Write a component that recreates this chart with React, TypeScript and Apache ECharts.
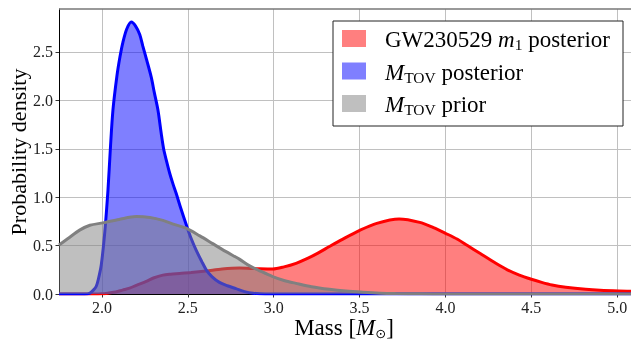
import React, { useEffect, useRef } from "react";
import * as echarts from "echarts";

// Mass [M_sun] vs probability density
const redPosterior: [number, number][] = [
  [1.75, 0], [1.95, 0], [2.0, 0.002], [2.04, 0.01], [2.08, 0.02], [2.12, 0.04],
  [2.161, 0.06], [2.2, 0.09], [2.258, 0.13], [2.3, 0.165], [2.355, 0.195],
  [2.4, 0.205], [2.452, 0.212], [2.52, 0.222], [2.607, 0.238], [2.7, 0.258],
  [2.8, 0.268], [2.9, 0.262], [2.994, 0.258], [3.06, 0.28], [3.13, 0.317],
  [3.2, 0.37], [3.26, 0.425], [3.324, 0.49], [3.4, 0.565], [3.498, 0.655],
  [3.6, 0.73], [3.73, 0.775], [3.85, 0.74], [3.93, 0.685], [4.0, 0.627],
  [4.07, 0.565], [4.128, 0.5], [4.2, 0.42], [4.293, 0.317], [4.36, 0.25],
  [4.43, 0.195], [4.5, 0.152], [4.56, 0.12], [4.62, 0.093], [4.7, 0.07],
  [4.816, 0.048], [4.9, 0.038], [5.01, 0.031], [5.08, 0.029],
];

const mtovPosterior: [number, number][] = [
  [1.75, 0], [1.9, 0], [1.93, 0.01], [1.95, 0.04], [1.967, 0.08], [1.98, 0.16],
  [1.996, 0.3], [2.016, 0.63], [2.035, 1.07], [2.049, 1.5], [2.064, 1.9],
  [2.087, 2.25], [2.105, 2.45], [2.122, 2.6], [2.145, 2.74], [2.171, 2.81],
  [2.195, 2.77], [2.22, 2.68], [2.238, 2.56], [2.26, 2.42], [2.287, 2.24],
  [2.305, 2.08], [2.326, 1.9], [2.345, 1.66], [2.359, 1.5], [2.375, 1.38],
  [2.394, 1.25], [2.413, 1.14], [2.432, 1.04], [2.46, 0.88], [2.49, 0.72],
  [2.52, 0.57], [2.549, 0.45], [2.58, 0.34], [2.607, 0.25], [2.64, 0.18],
  [2.684, 0.12], [2.73, 0.085], [2.78, 0.055], [2.83, 0.025], [2.88, 0.008],
  [2.95, 0], [5.08, 0],
];

const mtovPrior: [number, number][] = [
  [1.75, 0.506], [1.8, 0.57], [1.87, 0.66], [1.93, 0.71], [2.006, 0.735],
  [2.1, 0.77], [2.2, 0.8], [2.28, 0.79], [2.355, 0.76], [2.42, 0.72],
  [2.49, 0.68], [2.57, 0.6], [2.645, 0.52], [2.72, 0.44], [2.8, 0.36],
  [2.86, 0.29], [2.93, 0.23], [2.994, 0.18], [3.06, 0.14], [3.13, 0.11],
  [3.22, 0.075], [3.324, 0.048], [3.42, 0.03], [3.52, 0.018], [3.62, 0.009],
  [3.71, 0.005], [3.85, 0.002], [4.0, 0], [5.08, 0],
];

const xTicks = [2.0, 2.5, 3.0, 3.5, 4.0, 4.5, 5.0];
const yTicks = [0, 0.5, 1.0, 1.5, 2.0, 2.5];

const FONT = "'Liberation Serif', 'DejaVu Serif', serif";

export default function App() {
  const ref = useRef<HTMLDivElement>(null);
  useEffect(() => {
    if (!ref.current) return;
    const chart = echarts.init(ref.current, null, { renderer: "svg" });
    const sub = {
      i: { fontStyle: "italic", fontSize: 23, fontFamily: FONT, lineHeight: 26, fill: "#000" },
      s: { fontSize: 15.5, fontFamily: FONT, lineHeight: 15, verticalAlign: "bottom", fill: "#000" },
      o: { fontSize: 13, fontFamily: "'DejaVu Sans', " + FONT, lineHeight: 14, verticalAlign: "bottom", fill: "#000" },
    };
    const legendRows = [
      { text: "GW230529 {i|m}{s|1} posterior", color: "rgba(255,0,0,0.5)" },
      { text: "{i|M}{s|TOV} posterior", color: "rgba(0,0,255,0.5)" },
      { text: "{i|M}{s|TOV} prior", color: "rgba(128,128,128,0.5)" },
    ];
    const rowY = [38.5, 71, 103.5];
    const legendEls: any[] = [
      {
        type: "rect",
        shape: { x: 333, y: 21, width: 290, height: 105 },
        style: { fill: "#fff", stroke: "#222", lineWidth: 1 },
        z: 100,
      },
    ];
    legendRows.forEach((r, k) => {
      legendEls.push({
        type: "rect",
        shape: { x: 342, y: rowY[k] - 8.5, width: 24, height: 17 },
        style: { fill: r.color },
        z: 101,
      });
      legendEls.push({
        type: "text",
        x: 385,
        y: rowY[k] + 1,
        style: {
          text: r.text,
          rich: sub,
          fontSize: 23,
          lineHeight: 26,
          fontFamily: FONT,
          fill: "#000",
          align: "left",
          verticalAlign: "middle",
        },
        z: 101,
      });
    });

    const lineSeries = (name: string, data: [number, number][], color: string, fill: string, z: number) => ({
      name,
      type: "line",
      data,
      z,
      smooth: 0.3,
      showSymbol: false,
      symbol: "none",
      lineStyle: { color, width: 3 },
      areaStyle: { color: fill, origin: 0, opacity: 1 },
      clip: true,
    });

    chart.setOption({
      animation: false,
      grid: {
        left: 59,
        top: 9,
        right: 0,
        bottom: 47,
      },
      xAxis: {
        type: "value",
        min: 1.75,
        max: 5.08,
        axisLine: { show: true, onZero: false, lineStyle: { color: "#000", width: 1 } },
        axisTick: { show: true, length: 3.5, customValues: xTicks, lineStyle: { color: "#333" } },
        axisLabel: {
          customValues: xTicks,
          formatter: (v: number) => v.toFixed(1),
          fontFamily: FONT,
          fontSize: 16,
          color: "#222",
          margin: 5,
        },
        splitLine: { show: true, lineStyle: { color: "#c0c0c0", width: 1 } },
      },
      yAxis: {
        type: "value",
        min: 0,
        max: 2.944,
        axisLine: { show: true, lineStyle: { color: "#000", width: 1 } },
        axisTick: { show: true, length: 3.5, customValues: yTicks, lineStyle: { color: "#333" } },
        axisLabel: {
          customValues: yTicks,
          formatter: (v: number) => v.toFixed(1),
          fontFamily: FONT,
          fontSize: 16,
          color: "#222",
          margin: 6,
        },
        splitLine: { show: true, lineStyle: { color: "#c0c0c0", width: 1 } },
      },
      series: [
        lineSeries("GW230529 m1 posterior", redPosterior, "#ff0000", "rgba(255,0,0,0.5)", 2),
        lineSeries("M_TOV posterior", mtovPosterior, "#0000ff", "rgba(0,0,255,0.5)", 3),
        lineSeries("M_TOV prior", mtovPrior, "#808080", "rgba(128,128,128,0.5)", 4),
      ],
      graphic: [
        {
          type: "line",
          shape: { x1: 59, y1: 9, x2: 631, y2: 9 },
          style: { stroke: "#777", lineWidth: 1.5 },
          z: 50,
        },
        ...legendEls,
        {
          type: "text",
          x: 344,
          y: 327,
          style: {
            text: "Mass [{i|M}{o|⊙}]",
            rich: sub,
            fontSize: 23,
            lineHeight: 26,
            fontFamily: FONT,
            fill: "#000",
            align: "center",
            verticalAlign: "middle",
          },
        },
        {
          type: "text",
          x: 18,
          y: 152,
          rotation: Math.PI / 2,
          style: {
            text: "Probability density",
            fontSize: 22,
            fontFamily: FONT,
            fill: "#000",
            align: "center",
            verticalAlign: "middle",
          },
        },
      ],
    });
    return () => chart.dispose();
  }, []);
  return (
    <div
      ref={ref}
      style={{ position: "fixed", left: 0, top: 0, width: 631, height: 341 }}
    />
  );
}
